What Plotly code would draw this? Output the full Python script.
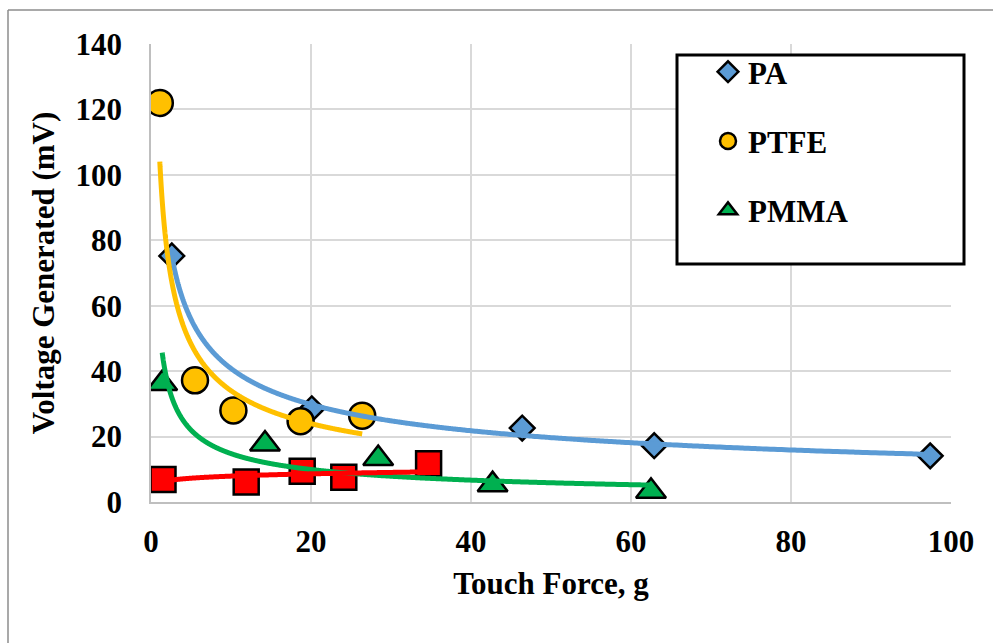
import numpy as np
import plotly.graph_objects as go

# ---- data ----
pa_x = [2.6, 20.1, 46.4, 62.9, 97.4]
pa_y = [75.2, 28.5, 22.6, 17.2, 14.1]

ptfe_x = [1.1, 5.5, 10.3, 18.7, 26.4]
ptfe_y = [122.0, 37.2, 28.0, 24.7, 26.4]

pmma_x = [1.4, 14.25, 28.4, 42.7, 62.5]
pmma_y = [36.2, 17.7, 13.3, 5.3, 3.3]

red_x = [1.5, 11.9, 18.9, 24.1, 34.7]
red_y = [6.9, 6.1, 9.4, 7.6, 11.7]

x_ticks = [0, 20, 40, 60, 80, 100]
y_ticks = [0, 20, 40, 60, 80, 100, 120, 140]

FONT = "Liberation Serif"
FS = 31


def power_trend(xs, ys):
    """Excel-style power trendline y = a*x^b fitted to the data."""
    b, lna = np.polyfit(np.log(xs), np.log(ys), 1)
    xx = np.geomspace(min(xs), max(xs), 600)
    return xx, np.exp(lna) * xx ** b


series = [
    ("PA", pa_x, pa_y, "diamond", 19, "#5B9BD5", True),
    ("PTFE", ptfe_x, ptfe_y, "circle", 26, "#FFC000", True),
    ("PMMA", pmma_x, pmma_y, "triangle-up", 26, "#00B050", True),
    ("Series 4", red_x, red_y, "square", 25, "#FF0000", False),
]

fig = go.Figure()
for i, (name, xs, ys, sym, sz, col, leg) in enumerate(series):
    fig.add_trace(go.Scatter(
        x=xs, y=ys, mode="markers", name=name, showlegend=leg,
        legendgroup=name,
        marker=dict(symbol=sym, size=sz, color=col,
                    line=dict(color="black", width=2.5)),
    ))
for name, xs, ys, sym, sz, col, leg in series:
    tx, ty = power_trend(xs, ys)
    fig.add_trace(go.Scatter(
        x=tx, y=ty, mode="lines", showlegend=False, hoverinfo="skip",
        line=dict(color=col, width=5, shape="spline"), name=name + " trend",
    ))

# plot area in pixels: left 151, right 951, top 44, bottom 502
L, R, T, B = 151, 42, 44, 141
W, H = 993, 643
pw, ph = W - L - R, H - T - B


def px_x(p):
    return (p - L) / pw


def px_y(p):
    return (H - B - p) / ph


shapes = [
    # outer chart border (top and left visible)
    dict(type="line", xref="paper", yref="paper", x0=px_x(8), x1=px_x(1000),
         y0=px_y(10), y1=px_y(10), line=dict(color="#8C8C8C", width=1.5)),
    dict(type="line", xref="paper", yref="paper", x0=px_x(8), x1=px_x(8),
         y0=px_y(10), y1=px_y(660), line=dict(color="#8C8C8C", width=1.5)),
    # legend box
    dict(type="rect", xref="paper", yref="paper", x0=px_x(677), x1=px_x(964),
         y0=px_y(264), y1=px_y(55), line=dict(color="black", width=3),
         fillcolor="white", layer="above"),
]

fig.update_layout(
    width=W, height=H,
    margin=dict(l=L, r=R, t=T, b=B),
    paper_bgcolor="white", plot_bgcolor="white",
    font=dict(family=FONT, size=FS, color="black", weight="bold"),
    shapes=shapes,
    showlegend=True,
    legend=dict(
        x=px_x(708), y=px_y(45), xanchor="left", yanchor="top",
        bgcolor="rgba(0,0,0,0)", borderwidth=0,
        font=dict(family=FONT, size=FS, color="black", weight="bold"),
        traceorder="grouped", tracegroupgap=26, itemsizing="trace",
    ),
    xaxis=dict(
        range=[0, 100], tickvals=x_ticks, ticktext=[str(v) for v in x_ticks],
        showgrid=True, gridcolor="#D9D9D9", gridwidth=1.5,
        showline=True, linecolor="#BFBFBF", linewidth=1.5,
        zeroline=False, ticks="outside", ticklen=11, tickcolor="rgba(0,0,0,0)",
        title=dict(text="Touch Force, g", standoff=14,
                   font=dict(family=FONT, size=FS, weight="bold")),
        tickfont=dict(family=FONT, size=FS, weight="bold"),
    ),
    yaxis=dict(
        range=[0, 140], tickvals=y_ticks, ticktext=[str(v) for v in y_ticks],
        showgrid=True, gridcolor="#D9D9D9", gridwidth=1.5,
        showline=True, linecolor="#BFBFBF", linewidth=1.5,
        zeroline=False, ticks="outside", ticklen=21, tickcolor="rgba(0,0,0,0)",
        title=dict(text="Voltage Generated (mV)", standoff=12,
                   font=dict(family=FONT, size=FS, weight="bold")),
        tickfont=dict(family=FONT, size=FS, weight="bold"),
    ),
)

fig.write_html(
    "out.html",
    config={"displayModeBar": False},
    post_script="document.body.style.margin='0';document.body.style.overflow='hidden';",
)
